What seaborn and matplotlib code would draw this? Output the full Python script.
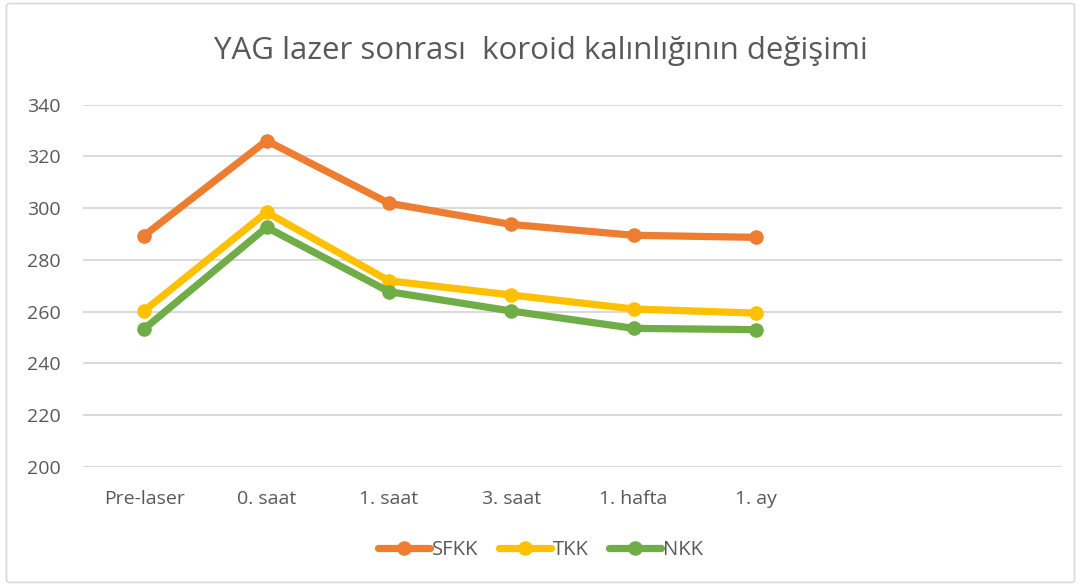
import matplotlib
matplotlib.use("Agg")
import matplotlib.pyplot as plt
from matplotlib.lines import Line2D
from matplotlib.patches import FancyBboxPatch
import pandas as pd
import seaborn as sns

# Measurement time points and mean choroid thickness (µm) per region
categories = ["Pre-laser", "0. saat", "1. saat", "3. saat", "1. hafta", "1. ay"]
sfkk = [289.4, 326.1, 301.9, 293.7, 289.5, 288.7]
tkk = [260.3, 298.4, 271.9, 266.4, 261.0, 259.4]
nkk = [253.3, 292.6, 267.7, 260.2, 253.5, 253.0]
series_names = ["SFKK", "TKK", "NKK"]
colors = ["#ED7D31", "#FFC000", "#70AD47"]
y_ticks = [200, 220, 240, 260, 280, 300, 320, 340]

df = pd.DataFrame({
    "zaman": categories * 3,
    "kalinlik": sfkk + tkk + nkk,
    "bolge": [s for s in series_names for _ in categories],
})

sns.set_theme(style="white")
plt.rcParams["font.family"] = ["Open Sans", "DejaVu Sans"]
text_color = "#595959"

fig = plt.figure(figsize=(10.81, 5.86), dpi=100)
ax = fig.add_axes([0.0768, 0.2036, 0.9056, 0.6177])

# Chart-area frame
fig.patches.append(FancyBboxPatch((0.006, 0.006), 0.988, 0.988,
                                  boxstyle="round,pad=0,rounding_size=0.004",
                                  transform=fig.transFigure, fill=False,
                                  edgecolor="#D9D9D9", linewidth=1.2))

sns.lineplot(data=df, x="zaman", y="kalinlik", hue="bolge",
             hue_order=series_names, palette=colors, sort=False,
             marker="o", markersize=10.5, markeredgewidth=0, linewidth=5.2,
             legend=False, ax=ax)

ax.set_ylim(200, 340)
ax.set_yticks(y_ticks)
ax.set_xlim(-0.5, 7.5)
ax.set_xticks(range(len(categories)))
ax.set_xticklabels(categories)
ax.set_xlabel("")
ax.set_ylabel("")
ax.grid(axis="y", color="#D9D9D9", linewidth=1.4)
ax.grid(axis="x", visible=False)
ax.set_axisbelow(True)
for s in ax.spines.values():
    s.set_visible(False)
ax.tick_params(axis="both", length=0, labelsize=14, labelcolor=text_color)
ax.tick_params(axis="y", pad=16)
ax.tick_params(axis="x", pad=17)

fig.text(0.5, 1 - 51 / 586, "YAG lazer sonrası  koroid kalınlığının değişimi",
         ha="center", va="center", fontsize=22.5, color=text_color)

handles = [Line2D([0], [0], color=c, linewidth=5.2, marker="o", markersize=10.5,
                  markeredgewidth=0) for c in colors]
fig.legend(handles, series_names, loc="center", bbox_to_anchor=(0.5, 1 - 550 / 586),
           ncol=3, frameon=False, fontsize=14.5, labelcolor=text_color,
           handlelength=2.6, handletextpad=0.1, columnspacing=1.0)

fig.savefig("out.png", dpi=100)
